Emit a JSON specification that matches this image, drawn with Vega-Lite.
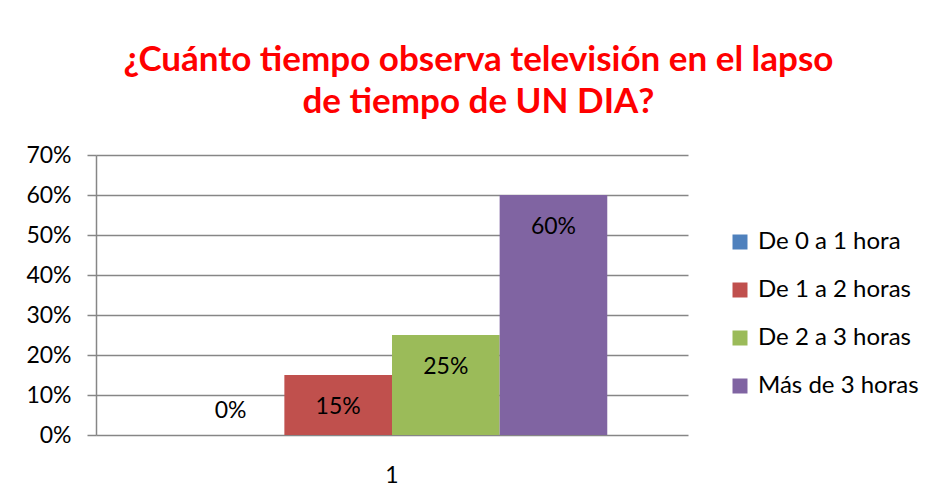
{
  "$schema": "https://vega.github.io/schema/vega-lite/v6.json",
  "autosize": {"type": "none"},
  "padding": {"left": 96, "top": 155, "right": 244, "bottom": 61},
  "width": 592,
  "height": 280,
  "background": "white",
  "title": {
    "text": ["¿Cuánto tiempo observa televisión en el lapso", "de tiempo de UN DIA?"],
    "font": "Lato",
    "fontSize": 35,
    "fontWeight": "bold",
    "color": "#FF0000",
    "lineHeight": 42,
    "anchor": "middle",
    "frame": "bounds",
    "dx": 6,
    "offset": 24
  },
  "data": {
    "values": [
      {"grupo": "1", "categoria": "De 0 a 1 hora", "valor": 0.0},
      {"grupo": "1", "categoria": "De 1 a 2 horas", "valor": 0.15},
      {"grupo": "1", "categoria": "De 2 a 3 horas", "valor": 0.25},
      {"grupo": "1", "categoria": "Más de 3 horas", "valor": 0.60}
    ]
  },
  "encoding": {
    "x": {
      "field": "grupo",
      "type": "nominal",
      "scale": {"paddingInner": 0, "paddingOuter": 0},
      "axis": {
        "title": null,
        "labelAngle": 0,
        "domain": false,
        "ticks": false,
        "labelPadding": 29,
        "labelFont": "Lato",
        "labelFontSize": 23,
        "labelColor": "#000000"
      }
    },
    "xOffset": {
      "field": "categoria",
      "type": "nominal",
      "sort": ["De 0 a 1 hora", "De 1 a 2 horas", "De 2 a 3 horas", "Más de 3 horas"],
      "scale": {"paddingInner": 0, "paddingOuter": 0.75}
    },
    "y": {
      "field": "valor",
      "type": "quantitative",
      "scale": {"domain": [0, 0.7], "nice": false},
      "axis": {
        "title": null,
        "values": [0, 0.1, 0.2, 0.3, 0.4, 0.5, 0.6, 0.7],
        "format": ".0%",
        "grid": true,
        "gridColor": "#868686",
        "gridWidth": 1.5,
        "domain": true,
        "domainColor": "#868686",
        "domainWidth": 1.5,
        "ticks": true,
        "tickSize": 9,
        "tickColor": "#868686",
        "tickWidth": 1.5,
        "labelPadding": 16,
        "labelFont": "Lato",
        "labelFontSize": 23,
        "labelColor": "#000000"
      }
    }
  },
  "layer": [
    {
      "mark": {"type": "bar", "stroke": null},
      "encoding": {
        "color": {
          "field": "categoria",
          "type": "nominal",
          "sort": ["De 0 a 1 hora", "De 1 a 2 horas", "De 2 a 3 horas", "Más de 3 horas"],
          "scale": {
            "domain": ["De 0 a 1 hora", "De 1 a 2 horas", "De 2 a 3 horas", "Más de 3 horas"],
            "range": ["#4F81BD", "#C0504D", "#9BBB59", "#8064A2"]
          },
          "legend": {
            "title": null,
            "orient": "none",
            "legendX": 632,
            "legendY": 75,
            "symbolType": "square",
            "symbolSize": 225,
            "symbolStrokeWidth": 0,
            "symbolOpacity": 1,
            "labelFont": "Lato",
            "labelFontSize": 24,
            "labelColor": "#000000",
            "labelOffset": 6,
            "labelLimit": 400,
            "rowPadding": 24,
            "padding": 0
          }
        }
      }
    },
    {
      "transform": [{"filter": "datum.valor > 0"}],
      "mark": {"type": "text", "font": "Lato", "fontSize": 23, "color": "#000000", "baseline": "middle", "dy": 32},
      "encoding": {"text": {"field": "valor", "type": "quantitative", "format": ".0%"}}
    },
    {
      "transform": [{"filter": "datum.valor == 0"}],
      "mark": {"type": "text", "font": "Lato", "fontSize": 23, "color": "#000000", "baseline": "middle", "dy": -24},
      "encoding": {"text": {"field": "valor", "type": "quantitative", "format": ".0%"}}
    }
  ],
  "config": {
    "view": {"stroke": null}
  }
}
